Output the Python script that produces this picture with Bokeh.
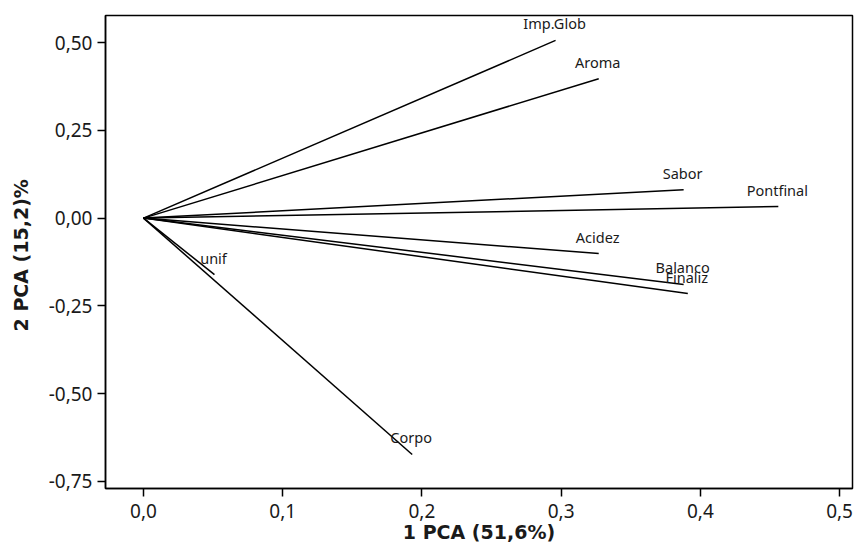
from bokeh.plotting import figure
from bokeh.models import Range1d, FixedTicker, ColumnDataSource
from bokeh.embed import file_html
from bokeh.resources import INLINE
from bokeh.core.properties import value

# Loadings
variables = ["Imp.Glob", "Aroma", "Sabor", "Pontfinal", "Acidez", "Balanco", "Finaliz", "unif", "Corpo"]
pc1 = [0.296, 0.327, 0.388, 0.456, 0.327, 0.388, 0.391, 0.051, 0.193]
pc2 = [0.506, 0.397, 0.081, 0.033, -0.101, -0.189, -0.215, -0.161, -0.673]

x_ticks = [0.0, 0.1, 0.2, 0.3, 0.4, 0.5]
x_tick_labels = ["0,0", "0,1", "0,2", "0,3", "0,4", "0,5"]
y_ticks = [-0.75, -0.5, -0.25, 0.0, 0.25, 0.5]
y_tick_labels = ["-0,75", "-0,50", "-0,25", "0,00", "0,25", "0,50"]

src = ColumnDataSource(dict(x0=[0.0] * len(pc1), y0=[0.0] * len(pc2), x1=pc1, y1=pc2, name=variables))

p = figure(width=856, height=549,
           x_range=Range1d(-0.0273, 0.5093), y_range=Range1d(-0.770, 0.577),
           output_backend="svg", toolbar_location=None,
           min_border_left=105, min_border_right=4, min_border_top=15, min_border_bottom=61)

p.background_fill_color = "white"
p.border_fill_color = "white"
p.outline_line_color = "black"
p.outline_line_width = 1.5
p.grid.visible = False

p.segment(x0="x0", y0="y0", x1="x1", y1="y1", source=src, line_color="black", line_width=1.5)
p.text(x="x1", y="y1", text="name", source=src, x_offset=-1, y_offset=-17,
       text_align="center", text_baseline="middle",
       text_font=value("Noto Sans"), text_font_size="14.5px", text_color="#1a1a1a")

p.xaxis.ticker = FixedTicker(ticks=x_ticks)
p.xaxis.major_label_overrides = {t: l for t, l in zip(x_ticks, x_tick_labels)}
p.yaxis.ticker = FixedTicker(ticks=y_ticks)
p.yaxis.major_label_overrides = {t: l for t, l in zip(y_ticks, y_tick_labels)}

for ax in (p.xaxis, p.yaxis):
    ax.major_tick_out = 8
    ax.major_tick_in = 0
    ax.minor_tick_line_color = None
    ax.axis_line_color = "black"
    ax.axis_line_width = 1.5
    ax.major_tick_line_color = "black"
    ax.major_tick_line_width = 1.5
    ax.major_label_text_font = "Noto Sans"
    ax.major_label_text_font_size = "19px"
    ax.major_label_text_color = "#1a1a1a"
    ax.axis_label_text_font = "DejaVu Sans"
    ax.axis_label_text_font_style = "bold"
    ax.axis_label_text_font_size = "19px"
    ax.axis_label_text_color = "#1a1a1a"

p.xaxis.axis_label = "1 PCA (51,6%)"
p.yaxis.axis_label = "2 PCA  (15,2)%"
p.xaxis.major_label_standoff = 7
p.yaxis.major_label_standoff = 5
p.xaxis.axis_label_standoff = 0
p.yaxis.axis_label_standoff = 14

open("out.html", "w").write(file_html(p, INLINE))
